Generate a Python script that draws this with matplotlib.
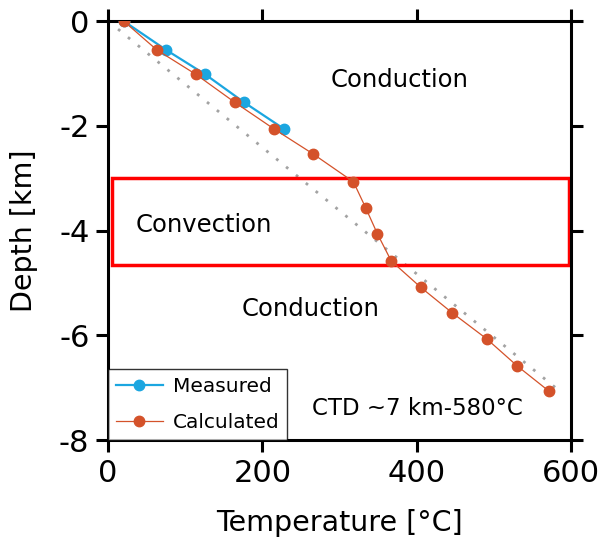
"""Temperature vs depth profile: measured and calculated, with convection zone."""
import matplotlib
matplotlib.use("Agg")
from matplotlib import pyplot as plt
from matplotlib.patches import Rectangle

# measured well temperatures
meas_temp = [20, 75, 126, 176, 228]
meas_depth = [0, -0.55, -1.02, -1.55, -2.06]

# calculated profile
calc_temp = [20, 63, 114, 164, 215, 266, 318, 334, 349, 367, 405, 446, 491, 530, 571]
calc_depth = [0, -0.55, -1.02, -1.55, -2.06, -2.54, -3.07, -3.57, -4.06, -4.58,
              -5.08, -5.57, -6.07, -6.58, -7.06]

# conductive reference gradient
ref_temp = [0, 580]
ref_depth = [0, -7]

# convection zone
conv_top = -3.0
conv_bottom = -4.65

BLUE = "#1ba6e0"
RED = "#d4522a"

plt.rcParams["font.family"] = "DejaVu Sans"
plt.rcParams["axes.unicode_minus"] = False

fig = plt.figure(figsize=(6.01, 5.40), dpi=100)
ax = fig.add_axes([0.18, 0.185, 0.77, 0.776])

ax.plot(ref_temp, ref_depth, linestyle=(0, (1, 3.6)), color="#a3a3a3", linewidth=2.0, zorder=1)
ax.plot(meas_temp, meas_depth, color=BLUE, linewidth=1.6, marker="o", markersize=7.5,
        label="Measured", zorder=3)
ax.plot(calc_temp, calc_depth, color=RED, linewidth=0.9, marker="o", markersize=7.5,
        label="Calculated", zorder=4)

ax.add_patch(Rectangle((5, conv_bottom), 592, conv_top - conv_bottom, fill=False,
                       edgecolor="#ff0000", linewidth=2.5, zorder=2))

ax.text(378, -1.13, "Conduction", fontsize=17.5, ha="center", va="center")
ax.text(124, -3.9, "Convection", fontsize=17.5, ha="center", va="center")
ax.text(262, -5.5, "Conduction", fontsize=17.5, ha="center", va="center")
ax.text(401, -7.4, "CTD ~7 km-580°C", fontsize=16.5, ha="center", va="center")

ax.set_xlim(0, 600)
ax.set_ylim(-8, 0)
ax.set_xticks([0, 200, 400, 600])
ax.set_yticks([-8, -6, -4, -2, 0])
ax.set_xlabel("Temperature [°C]", fontsize=20.5, labelpad=15)
ax.set_ylabel("Depth [km]", fontsize=20.5, labelpad=15)

for side in ax.spines.values():
    side.set_linewidth(2.2)
ax.tick_params(direction="out", length=8.5, width=2.2, labelsize=22, pad=5,
               top=True, right=True)

leg = ax.legend(loc="lower left", bbox_to_anchor=(0, 0), fontsize=14.5, frameon=True,
                fancybox=False, edgecolor="black", borderaxespad=0, handlelength=2.3,
                labelspacing=0.85, borderpad=0.4, handletextpad=0.5)
leg.get_frame().set_linewidth(1.0)

fig.savefig("out.png", dpi=100)
